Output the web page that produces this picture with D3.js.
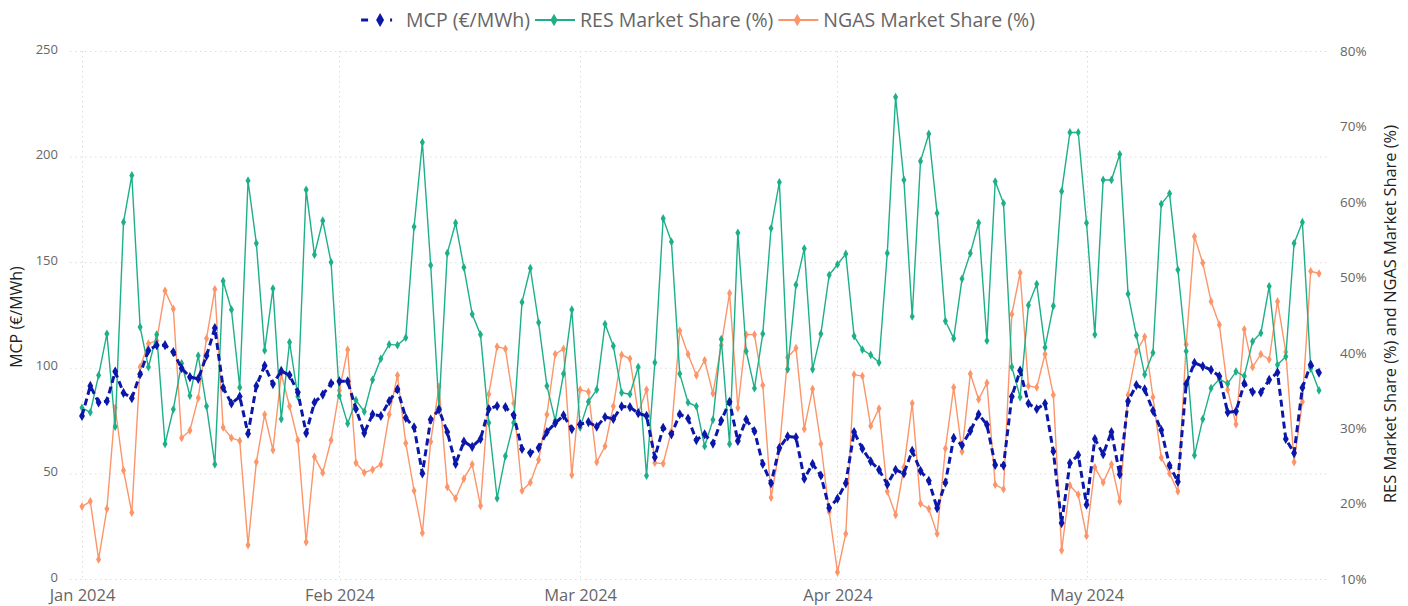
<!DOCTYPE html>
<html>
<head>
<meta charset="utf-8">
<script src="https://cdn.jsdelivr.net/npm/d3@7"></script>
<style>
  body { margin: 0; background: #fff; }
  svg { display: block; font-family: "Open Sans", "Noto Sans", sans-serif; }
</style>
</head>
<body>
<div id="chart"></div>
<script>
// daily values, 1 Jan 2024 .. 29 May 2024
const startDate = new Date(2024, 0, 1);

const mcp = [77.2, 91.4, 83.6, 84.2, 98.2, 88.1, 85.6, 97.0, 108.2, 110.7,
  110.7, 107.4, 99.8, 95.6, 94.8, 105.7, 118.8, 90.6, 83.1, 86.4,
  68.8, 91.4, 101.0, 92.3, 98.5, 96.5, 88.4, 69.1, 83.6, 87.3,
  92.6, 93.6, 93.6, 80.5, 69.1, 78.0, 77.2, 84.2, 89.8, 76.3,
  71.8, 50.0, 75.5, 80.2, 69.6, 54.5, 65.1, 62.6, 66.3, 80.5,
  81.9, 81.4, 77.5, 61.6, 59.6, 62.1, 69.6, 73.8, 77.5, 71.0,
  73.3, 74.3, 72.1, 76.7, 75.8, 81.7, 81.4, 78.5, 77.2, 57.6,
  71.6, 68.5, 78.0, 76.0, 65.8, 68.5, 64.1, 75.0, 83.9, 65.4,
  75.5, 70.0, 54.5, 45.3, 62.1, 67.5, 67.1, 47.5, 54.5, 49.0,
  33.6, 38.1, 45.3, 69.6, 61.7, 55.7, 51.7, 44.8, 51.7, 50.0,
  60.7, 51.2, 46.5, 33.6, 45.6, 66.8, 63.3, 70.1, 78.0, 73.0,
  54.0, 53.7, 86.4, 98.7, 83.1, 80.5, 83.1, 60.4, 26.5, 54.9,
  58.7, 35.2, 66.3, 59.1, 69.6, 49.5, 84.2, 91.8, 89.8, 79.7,
  70.5, 53.7, 46.1, 92.3, 102.4, 100.7, 99.0, 96.0, 78.9, 79.4,
  92.6, 88.6, 88.4, 94.3, 97.8, 66.3, 59.6, 90.6, 101.5, 97.7];

const resShare = [32.7, 32.1, 37.0, 42.5, 30.2, 57.3, 63.5, 43.4, 38.1, 42.4,
  27.9, 32.5, 38.6, 34.3, 39.6, 32.9, 25.2, 49.5, 45.7, 35.4,
  62.8, 54.5, 40.3, 48.5, 31.2, 41.4, 34.2, 61.6, 53.0, 57.5,
  52.0, 34.3, 30.6, 33.7, 32.2, 36.4, 39.2, 41.1, 41.0, 42.0,
  56.7, 67.9, 51.6, 32.7, 53.2, 57.2, 51.3, 45.1, 42.4, 30.7,
  20.7, 26.3, 30.7, 46.7, 51.2, 44.0, 35.6, 31.0, 37.2, 45.7,
  30.1, 33.5, 35.1, 43.8, 40.9, 34.7, 34.5, 38.1, 23.7, 38.7,
  57.8, 54.7, 37.2, 33.4, 32.9, 27.6, 31.1, 41.8, 27.9, 55.9,
  40.2, 35.3, 42.5, 56.5, 62.6, 37.8, 49.0, 53.8, 37.8, 42.5,
  50.3, 51.7, 53.1, 42.2, 40.4, 39.7, 38.7, 53.2, 73.9, 62.9,
  44.8, 65.4, 69.0, 58.5, 44.2, 41.9, 49.8, 53.2, 57.2, 41.6,
  62.7, 59.8, 38.1, 34.1, 46.3, 49.1, 40.7, 46.2, 61.4, 69.2,
  69.2, 57.2, 42.4, 62.9, 62.9, 66.3, 47.8, 42.3, 37.1, 40.0,
  59.7, 61.1, 51.0, 40.2, 26.4, 31.2, 35.3, 36.5, 35.9, 37.5,
  36.9, 41.5, 42.6, 48.8, 38.4, 39.5, 54.5, 57.3, 37.9, 35.0];

const ngasShare = [19.6, 20.3, 12.6, 19.3, 32.7, 24.4, 18.8, 38.1, 41.2, 41.6,
  48.2, 45.8, 28.7, 29.7, 34.0, 41.9, 48.4, 30.1, 28.7, 28.3,
  14.5, 25.5, 31.8, 27.1, 37.2, 32.9, 28.4, 14.9, 26.2, 24.1,
  28.4, 35.0, 40.4, 25.4, 24.1, 24.5, 25.2, 31.8, 37.0, 28.0,
  21.7, 16.1, 28.2, 35.5, 22.2, 20.7, 23.3, 25.2, 19.7, 34.5,
  40.8, 40.5, 33.3, 21.7, 22.8, 25.8, 31.8, 39.8, 40.5, 23.8,
  35.1, 34.8, 25.5, 27.6, 32.9, 39.7, 39.2, 32.0, 35.1, 25.4,
  25.3, 29.6, 42.9, 39.8, 37.0, 39.0, 34.6, 41.0, 47.9, 32.7,
  42.4, 42.4, 35.7, 20.8, 27.1, 39.4, 40.6, 29.9, 35.2, 27.9,
  18.9, 10.9, 16.0, 37.1, 36.9, 30.3, 32.6, 21.6, 18.5, 24.8,
  33.3, 20.0, 19.3, 16.0, 27.3, 35.4, 26.9, 37.2, 33.8, 36.0,
  22.5, 21.9, 45.1, 50.6, 35.6, 35.4, 39.8, 34.4, 13.8, 22.4,
  21.2, 15.7, 24.8, 22.8, 25.2, 20.3, 34.4, 40.1, 42.1, 34.1,
  26.1, 24.0, 21.6, 41.1, 55.4, 51.9, 46.8, 43.7, 35.1, 30.5,
  43.1, 38.1, 39.8, 39.1, 46.8, 40.1, 25.5, 33.5, 50.8, 50.5];

const leftTicks = [0, 50, 100, 150, 200, 250];
const rightTicks = [10, 20, 30, 40, 50, 60, 70, 80];
const monthTicks = [new Date(2024, 0, 1), new Date(2024, 1, 1), new Date(2024, 2, 1),
  new Date(2024, 3, 1), new Date(2024, 4, 1)];

const seriesNames = ["MCP (€/MWh)", "RES Market Share (%)", "NGAS Market Share (%)"];
const colors = ["#0a17a8", "#1db088", "#fc956a"];

const dates = mcp.map((v, i) => d3.timeDay.offset(startDate, i));

const width = 1408, height = 606;
const plotLeft = 70, plotRight = 1330, plotTop = 51, plotBottom = 579;

const svg = d3.select("#chart").append("svg")
  .attr("width", width)
  .attr("height", height);

svg.append("rect").attr("width", width).attr("height", height).attr("fill", "#fff");

let x = d3.scaleTime()
  .domain([dates[0], dates[dates.length - 1]])
  .range([82, 1319]);
let yLeft = d3.scaleLinear().domain([0, 250]).range([plotBottom, plotTop]);
let yRight = d3.scaleLinear().domain([10, 80]).range([plotBottom, plotTop]);

// grid
let grid = svg.append("g").attr("stroke", "#dcdcdc").attr("stroke-dasharray", "1.5,3.5").attr("stroke-width", 1);
grid.selectAll(".hg").data(leftTicks).enter().append("line")
  .attr("x1", plotLeft).attr("x2", plotRight)
  .attr("y1", d => yLeft(d) + 0.5).attr("y2", d => yLeft(d) + 0.5);
grid.selectAll(".vg").data(monthTicks).enter().append("line")
  .attr("x1", d => Math.round(x(d)) + 0.5).attr("x2", d => Math.round(x(d)) + 0.5)
  .attr("y1", plotTop).attr("y2", plotBottom);

// axes
let leftAxis = svg.append("g")
  .attr("transform", "translate(" + (plotLeft - 12) + ",-2)")
  .call(d3.axisLeft(yLeft).tickValues(leftTicks).tickSize(0).tickPadding(0));
let rightAxis = svg.append("g")
  .attr("transform", "translate(" + (plotRight + 10) + ",0)")
  .call(d3.axisRight(yRight).tickValues(rightTicks).tickSize(0).tickPadding(0)
    .tickFormat(d => d + "%"));
let bottomAxis = svg.append("g")
  .attr("transform", "translate(0," + (plotBottom + 10) + ")")
  .call(d3.axisBottom(x).tickValues(monthTicks).tickSize(0).tickPadding(0)
    .tickFormat(d3.timeFormat("%b %Y")));

[leftAxis, rightAxis, bottomAxis].forEach(function (a) {
  a.select(".domain").remove();
  a.selectAll("text").attr("fill", "#666").style("font-size", "13px")
    .style("font-family", "'Open Sans', sans-serif");
});
rightAxis.selectAll("text").style("font-size", "13.5px");
bottomAxis.selectAll("text").attr("fill", "#666").style("font-size", "16.5px").attr("dy", "0.75em");

svg.append("text")
  .attr("transform", "translate(22," + ((plotTop + plotBottom) / 2 + 2) + ") rotate(-90)")
  .attr("text-anchor", "middle")
  .attr("fill", "#222")
  .style("font-size", "16px")
  .text("MCP (€/MWh)");

svg.append("text")
  .attr("transform", "translate(1396," + ((plotTop + plotBottom) / 2 - 1) + ") rotate(-90)")
  .attr("text-anchor", "middle")
  .attr("fill", "#222")
  .style("font-size", "16.4px")
  .text("RES Market Share (%) and NGAS Market Share (%)");

// series
let diamond = d3.symbol().type(d3.symbolDiamond);

function drawSeries(values, yScale, color, dashed, markerSize) {
  let g = svg.append("g");
  let line = d3.line()
    .x((d, i) => x(dates[i]))
    .y(d => yScale(d));
  g.append("path")
    .datum(values)
    .attr("fill", "none")
    .attr("stroke", color)
    .attr("stroke-width", dashed ? 3 : 1.4)
    .attr("stroke-dasharray", dashed ? "7,4" : null)
    .attr("stroke-linejoin", "round")
    .attr("d", line);
  g.selectAll("path.pt")
    .data(values)
    .enter()
    .append("path")
    .attr("class", "pt")
    .attr("d", diamond.size(markerSize))
    .attr("fill", color)
    .attr("transform", (d, i) => "translate(" + x(dates[i]) + "," + yScale(d) + ")");
}

drawSeries(ngasShare, yRight, colors[2], false, 22);
drawSeries(resShare, yRight, colors[1], false, 22);
drawSeries(mcp, yLeft, colors[0], true, 30);

// legend
let legend = svg.append("g");
let lx = 0;
seriesNames.forEach(function (name, i) {
  let item = legend.append("g").attr("transform", "translate(" + lx + ",0)");
  item.append("line")
    .attr("x1", 0).attr("x2", 40).attr("y1", 0).attr("y2", 0)
    .attr("stroke", colors[i])
    .attr("stroke-width", i === 0 ? 3 : 2.2)
    .attr("stroke-dasharray", i === 0 ? "7,22,2,100" : null);
  item.append("path")
    .attr("d", diamond.size(i === 0 ? 55 : 45))
    .attr("fill", colors[i])
    .attr("transform", "translate(19,0)");
  let t = item.append("text")
    .attr("x", 45).attr("y", 0).attr("dy", "0.35em")
    .attr("fill", "#666")
    .style("font-size", "19.5px")
    .text(name);
  lx += 45 + t.node().getComputedTextLength() + 5;
});
legend.attr("transform", "translate(" + (354 + (1042 - 354 - (lx - 5)) / 2) + ",20)");
</script>
</body>
</html>
